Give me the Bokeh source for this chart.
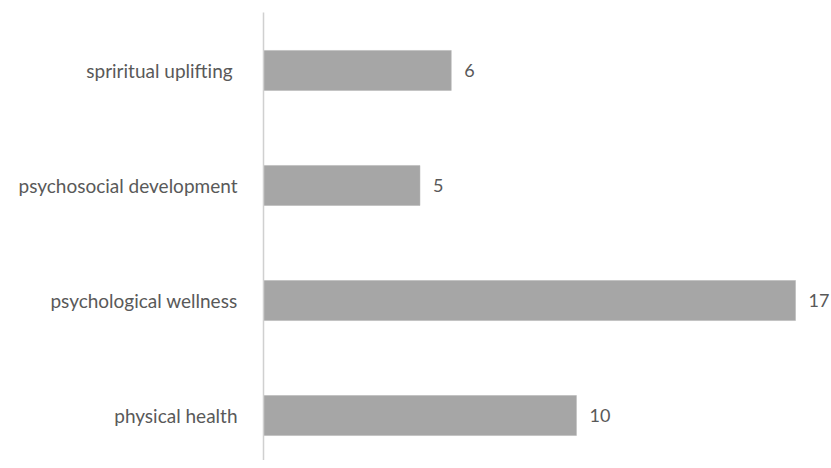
from bokeh.plotting import figure
from bokeh.models import Range1d, FixedTicker, ColumnDataSource, LabelSet
from bokeh.core.properties import value
from bokeh.embed import file_html
from bokeh.resources import INLINE

categories = ["physical health", "psychological wellness", "psychosocial development", "spriritual uplifting "]
values = [10, 17, 5, 6]
value_labels = [str(v) for v in values]

ypos = list(range(len(categories)))
src = ColumnDataSource(dict(y=ypos, v=values, t=value_labels, cat=categories))

p = figure(width=831, height=460, output_backend="svg", toolbar_location=None,
           x_range=Range1d(0, 18.15), y_range=Range1d(-0.391, 3.504),
           min_border_left=263, min_border_right=0, min_border_top=12, min_border_bottom=0)
p.outline_line_color = None
p.grid.visible = False
p.xaxis.visible = False

p.hbar(y="y", right="v", left=0, height=0.348, source=src,
       fill_color="#a6a6a6", line_color="#b4b4b4", line_width=0.5)

labels = LabelSet(x="v", y="y", text="t", source=src, x_offset=13, y_offset=0,
                  text_baseline="middle", text_align="left",
                  text_font=value("Lato"), text_font_size="18px", text_color="#595959")
p.add_layout(labels)

p.yaxis.ticker = FixedTicker(ticks=ypos)
p.yaxis.major_label_overrides = {i: c for i, c in zip(ypos, categories)}
p.yaxis.major_tick_line_color = None
p.yaxis.minor_tick_line_color = None
p.yaxis.axis_line_color = "#d0d0d0"
p.yaxis.axis_line_width = 1.5
p.yaxis.major_label_standoff = 20
p.yaxis.major_label_text_font = "Lato"
p.yaxis.major_label_text_font_size = "19px"
p.yaxis.major_label_text_color = "#595959"

open("out.html", "w").write(file_html(p, INLINE))
